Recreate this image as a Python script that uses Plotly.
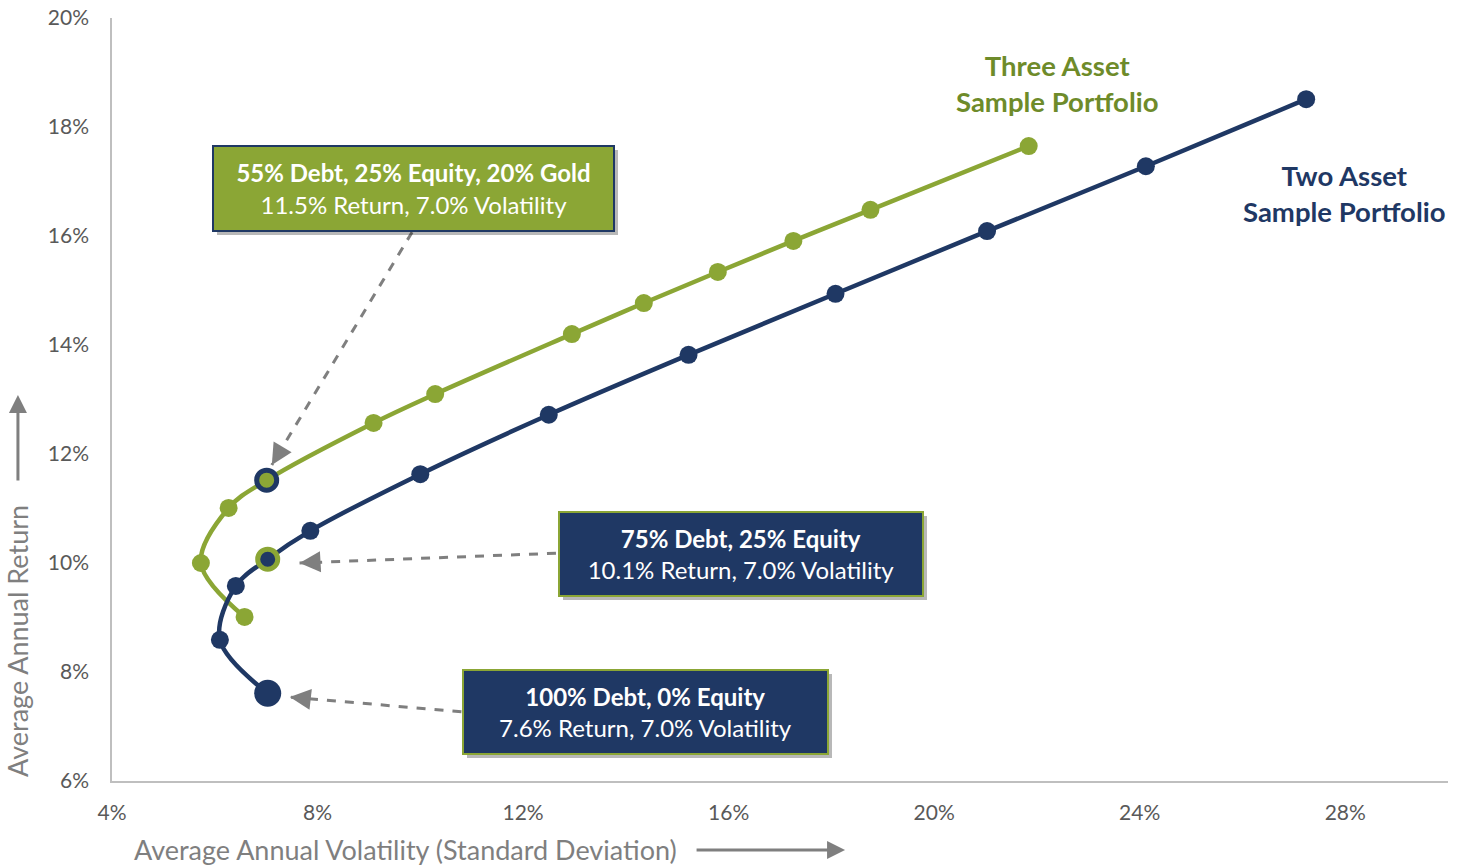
import plotly.graph_objects as go

# ---- data ----
three_vol = [6.58, 5.73, 6.27, 7.01, 9.09, 10.29, 12.95, 14.35, 15.79, 17.26, 18.76, 21.84]
three_ret = [9.01, 10.00, 11.01, 11.52, 12.57, 13.10, 14.20, 14.77, 15.34, 15.91, 16.48, 17.65]
two_vol = [7.03, 6.10, 6.41, 7.03, 7.86, 10.00, 12.50, 15.22, 18.08, 21.03, 24.12, 27.24]
two_ret = [7.61, 8.59, 9.58, 10.07, 10.59, 11.63, 12.72, 13.82, 14.94, 16.09, 17.28, 18.51]
x_ticks = [4, 8, 12, 16, 20, 24, 28]
y_ticks = [6, 8, 10, 12, 14, 16, 18, 20]

GREEN = "#8BA635"
GREEN_TXT = "#6E8B2A"
NAVY = "#1F3864"
GRAY = "#7F7F7F"
TICK = "#595959"
FONT = "Lato"

fig = go.Figure()

fig.add_trace(go.Scatter(x=three_vol, y=three_ret, mode="lines+markers",
                         line=dict(color=GREEN, width=4.5, shape="spline", smoothing=1),
                         marker=dict(color=GREEN, size=18), hoverinfo="skip"))
fig.add_trace(go.Scatter(x=two_vol, y=two_ret, mode="lines+markers",
                         line=dict(color=NAVY, width=4.5, shape="spline", smoothing=1),
                         marker=dict(color=NAVY, size=18), hoverinfo="skip"))
# highlighted points
fig.add_trace(go.Scatter(x=[three_vol[3]], y=[three_ret[3]], mode="markers",
                         marker=dict(color=GREEN, size=20, line=dict(color=NAVY, width=5)),
                         hoverinfo="skip"))
fig.add_trace(go.Scatter(x=[two_vol[3]], y=[two_ret[3]], mode="markers",
                         marker=dict(color=NAVY, size=20, line=dict(color=GREEN, width=5)),
                         hoverinfo="skip"))
fig.add_trace(go.Scatter(x=[two_vol[0]], y=[two_ret[0]], mode="markers",
                         marker=dict(color=NAVY, size=27), hoverinfo="skip"))

annotations = []
shapes = []

def box(cx, cy, w, h, bg, border, l1, l2):
    # shadow
    annotations.append(dict(xref="paper", yref="paper", x=cx, y=cy, xanchor="center", yanchor="middle",
                            text="", showarrow=False, width=w, height=h, bgcolor="rgba(0,0,0,0.28)",
                            borderwidth=2, bordercolor="rgba(0,0,0,0)", borderpad=2, xshift=4, yshift=-4))
    annotations.append(dict(xref="paper", yref="paper", x=cx, y=cy, xanchor="center", yanchor="middle",
                            text=f"<b>{l1}</b><br>{l2}", showarrow=False, width=w, height=h,
                            bgcolor=bg, bordercolor=border, borderwidth=2, borderpad=2,
                            font=dict(family=FONT, size=24, color="white"), align="center"))

def dashed(x0, y0, x1, y1, ax, ay):
    shapes.append(dict(type="line", xref="x", yref="y", x0=x0, y0=y0, x1=x1, y1=y1,
                       line=dict(color=GRAY, width=3, dash="dash")))
    annotations.append(dict(xref="x", yref="y", x=x1, y=y1, axref="pixel", ayref="pixel", ax=ax, ay=ay,
                            text="", showarrow=True, arrowhead=2, arrowsize=1.4, arrowwidth=3,
                            arrowcolor=GRAY, standoff=0))

# dashed callout arrows (from box edge to point)
dashed(9.84, 16.07, 7.11, 11.80, 9, -15)
dashed(12.64, 10.18, 7.65, 10.00, 18, -1)
dashed(10.80, 7.27, 7.46, 7.54, 18, 2)

box(0.2257, 0.7765, 395, 79, GREEN, NAVY, "55% Debt, 25% Equity, 20% Gold", "11.5% Return, 7.0% Volatility")
box(0.4708, 0.2975, 358, 78, NAVY, GREEN, "75% Debt, 25% Equity", "10.1% Return, 7.0% Volatility")
box(0.3993, 0.0904, 359, 78, NAVY, GREEN, "100% Debt, 0% Equity", "7.6% Return, 7.0% Volatility")

# series labels
annotations.append(dict(xref="paper", yref="paper", x=0.708, y=0.9135, xanchor="center", yanchor="middle",
                        text="<b>Three Asset<br>Sample Portfolio</b>", showarrow=False,
                        font=dict(family=FONT, size=27.5, color=GREEN_TXT)))
annotations.append(dict(xref="paper", yref="paper", x=0.9229, y=0.7706, xanchor="center", yanchor="middle",
                        text="<b>Two Asset<br>Sample Portfolio</b>", showarrow=False,
                        font=dict(family=FONT, size=27.5, color=NAVY)))

# axis titles with arrows
annotations.append(dict(xref="paper", yref="paper", x=-0.0704, y=0.1835, xanchor="center", yanchor="middle",
                        text="Average Annual Return", textangle=-90, showarrow=False,
                        font=dict(family=FONT, size=27, color=GRAY)))
annotations.append(dict(xref="paper", yref="paper", x=-0.0704, y=0.5059, axref="pixel", ayref="pixel",
                        ax=0, ay=87, text="", showarrow=True, arrowhead=2, arrowsize=1.2,
                        arrowwidth=3, arrowcolor=GRAY, standoff=0))
annotations.append(dict(xref="paper", yref="paper", x=0.220, y=-0.0904, xanchor="center", yanchor="middle",
                        text="Average Annual Volatility (Standard Deviation)", showarrow=False,
                        font=dict(family=FONT, size=27, color=GRAY)))
annotations.append(dict(xref="paper", yref="paper", x=0.5487, y=-0.0904, axref="pixel", ayref="pixel",
                        ax=-150, ay=0, text="", showarrow=True, arrowhead=2, arrowsize=1.2,
                        arrowwidth=3, arrowcolor=GRAY, standoff=0))

fig.update_layout(
    width=1458, height=866,
    margin=dict(l=112, r=10, t=18, b=85, autoexpand=False),
    paper_bgcolor="white", plot_bgcolor="white",
    showlegend=False,
    font=dict(family=FONT, color=TICK, size=21),
    annotations=annotations, shapes=shapes,
    xaxis=dict(range=[4, 30], tickvals=x_ticks, ticktext=[f"{v}%" for v in x_ticks],
               showgrid=False, zeroline=False, showline=True, linecolor="#BFBFBF", linewidth=1.5,
               automargin=False,
               ticks="", ticklabelstandoff=12, tickfont=dict(size=21, color=TICK, family=FONT)),
    yaxis=dict(range=[6, 20], tickvals=y_ticks, ticktext=[f"{v}%" for v in y_ticks],
               showgrid=False, zeroline=False, showline=True, linecolor="#BFBFBF", linewidth=1.5,
               automargin=False,
               ticks="", ticklabelstandoff=17, tickfont=dict(size=21, color=TICK, family=FONT)),
)

fig.write_html("out.html", config={"displayModeBar": False},
               post_script="document.body.style.margin='0px';document.body.style.overflow='hidden';document.documentElement.style.overflow='hidden';")
